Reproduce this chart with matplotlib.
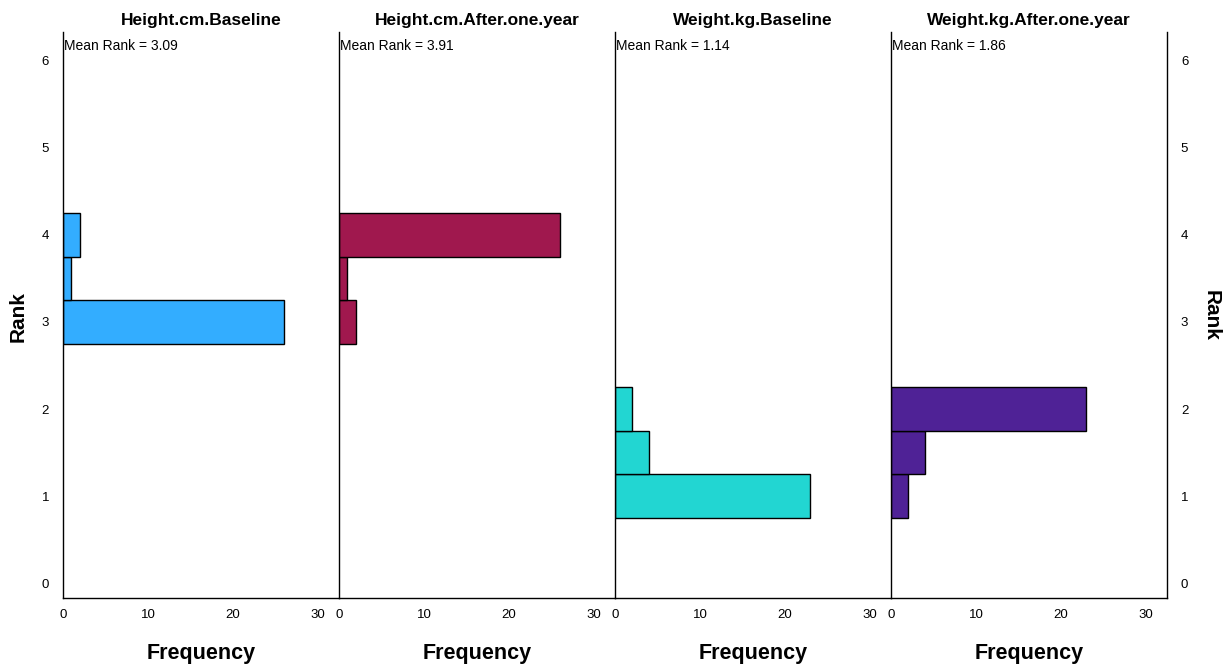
import numpy as np
import matplotlib.pyplot as plt

plt.rcParams['font.family'] = ['Liberation Sans', 'DejaVu Sans']

# rank bins (bin centres) and frequencies per variable
rank_bins = [1.0, 1.5, 2.0, 3.0, 3.5, 4.0]
variables = ["Height.cm.Baseline", "Height.cm.After.one.year",
             "Weight.kg.Baseline", "Weight.kg.After.one.year"]
freqs = {
    "Height.cm.Baseline":       [0, 0, 0, 26, 1, 2],
    "Height.cm.After.one.year": [0, 0, 0, 2, 1, 26],
    "Weight.kg.Baseline":       [23, 4, 2, 0, 0, 0],
    "Weight.kg.After.one.year": [2, 4, 23, 0, 0, 0],
}
mean_ranks = ["3.09", "3.91", "1.14", "1.86"]
colors = ["#33adff", "#a0184e", "#22d6d2", "#4f2296"]
x_ticks = [0, 10, 20, 30]
y_ticks = [0, 1, 2, 3, 4, 5, 6]

fig, axes = plt.subplots(1, 4, figsize=(12.29, 6.69), dpi=100, sharey=True)
fig.subplots_adjust(left=63/1229, right=1167/1229, bottom=1-598/669,
                    top=1-32/669, wspace=0)

for i, (ax, var) in enumerate(zip(axes, variables)):
    # skip empty bins so no outline is drawn for them
    ys = [r for r, f in zip(rank_bins, freqs[var]) if f > 0]
    fs = [f for f in freqs[var] if f > 0]
    ax.barh(ys, fs, height=0.5, color=colors[i],
            edgecolor="black", linewidth=1.0)
    ax.set_xlim(0, 32.5)
    ax.set_ylim(-0.17, 6.33)
    ax.set_xticks(x_ticks)
    ax.set_yticks(y_ticks)
    ax.tick_params(length=0, labelsize=9.5, pad=8)
    ax.spines['top'].set_visible(False)
    ax.spines['right'].set_visible(i == 3)
    for s in ax.spines.values():
        s.set_linewidth(1.0)
    ax.set_title(var, fontsize=12.5, fontweight="bold", pad=5)
    ax.set_xlabel("Frequency", fontsize=15.5, fontweight="bold", labelpad=16)
    ax.text(0.004, 0.988, "Mean Rank = " + mean_ranks[i], transform=ax.transAxes,
            fontsize=10, va="top", ha="left")
    if i == 3:
        ax.yaxis.set_tick_params(labelright=True, labelleft=False)
        ax.tick_params(axis='y', pad=10)

axes[0].tick_params(axis='y', pad=10)

# Rank labels on both sides
fig.text(18/1229, 1-317/669, "Rank", rotation=90, fontsize=15,
         fontweight="bold", ha="center", va="center")
fig.text(1211/1229, 1-315/669, "Rank", rotation=270, fontsize=15,
         fontweight="bold", ha="center", va="center")

fig.savefig("out.png", dpi=100)
